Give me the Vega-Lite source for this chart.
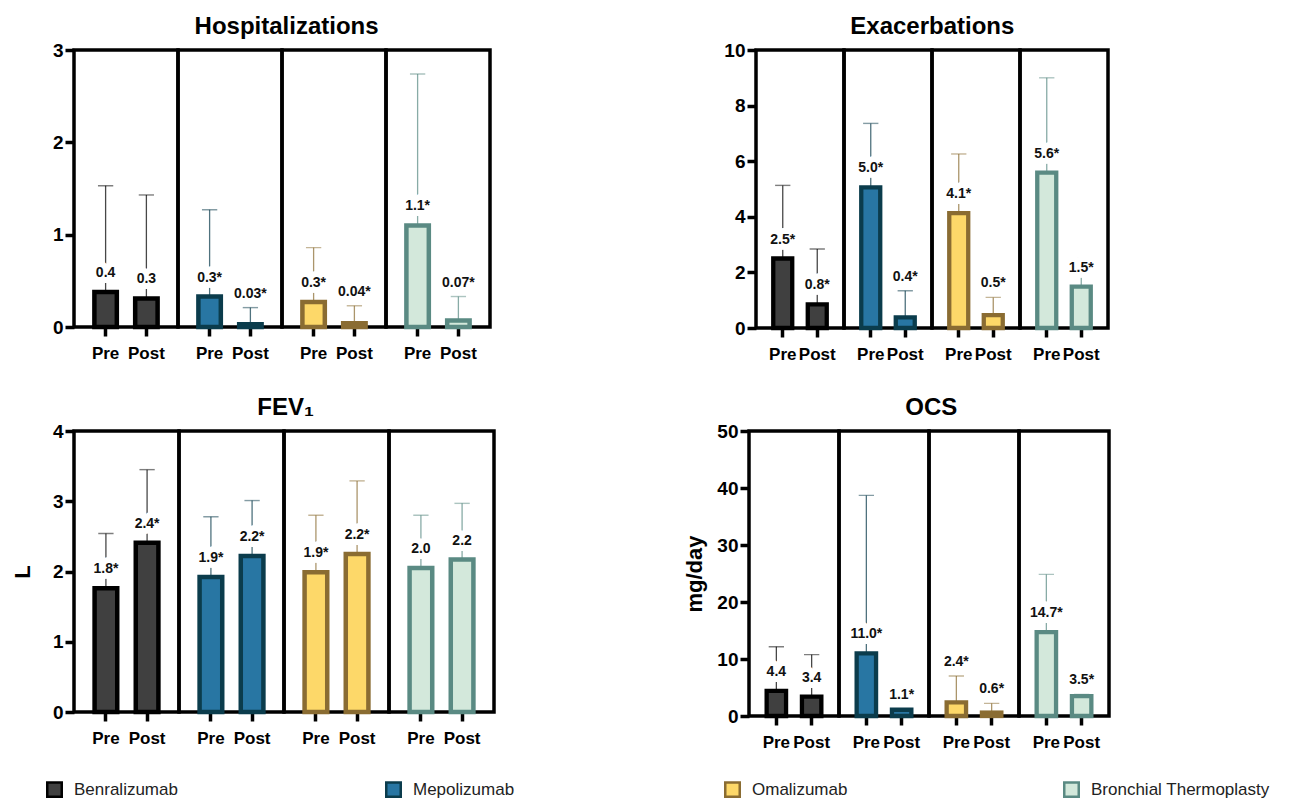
{
  "$schema": "https://vega.github.io/schema/vega-lite/v6.json",
  "background": "white",
  "padding": {"left": 11, "top": 15, "right": 5, "bottom": 5},
  "datasets": {
    "hosp": [
      {"treatment": "Benralizumab", "period": "Pre", "mean": 0.38, "upper": 1.53, "label": "0.4"},
      {"treatment": "Benralizumab", "period": "Post", "mean": 0.31, "upper": 1.43, "label": "0.3"},
      {"treatment": "Mepolizumab", "period": "Pre", "mean": 0.33, "upper": 1.27, "label": "0.3*"},
      {"treatment": "Mepolizumab", "period": "Post", "mean": 0.03, "upper": 0.21, "label": "0.03*"},
      {"treatment": "Omalizumab", "period": "Pre", "mean": 0.27, "upper": 0.86, "label": "0.3*"},
      {"treatment": "Omalizumab", "period": "Post", "mean": 0.04, "upper": 0.23, "label": "0.04*"},
      {"treatment": "Bronchial Thermoplasty", "period": "Pre", "mean": 1.1, "upper": 2.74, "label": "1.1*"},
      {"treatment": "Bronchial Thermoplasty", "period": "Post", "mean": 0.07, "upper": 0.33, "label": "0.07*"}
    ],
    "exac": [
      {"treatment": "Benralizumab", "period": "Pre", "mean": 2.5, "upper": 5.13, "label": "2.5*"},
      {"treatment": "Benralizumab", "period": "Post", "mean": 0.85, "upper": 2.84, "label": "0.8*"},
      {"treatment": "Mepolizumab", "period": "Pre", "mean": 5.06, "upper": 7.36, "label": "5.0*"},
      {"treatment": "Mepolizumab", "period": "Post", "mean": 0.38, "upper": 1.34, "label": "0.4*"},
      {"treatment": "Omalizumab", "period": "Pre", "mean": 4.13, "upper": 6.26, "label": "4.1*"},
      {"treatment": "Omalizumab", "period": "Post", "mean": 0.46, "upper": 1.1, "label": "0.5*"},
      {"treatment": "Bronchial Thermoplasty", "period": "Pre", "mean": 5.59, "upper": 9.0, "label": "5.6*"},
      {"treatment": "Bronchial Thermoplasty", "period": "Post", "mean": 1.49, "upper": 2.5, "label": "1.5*"}
    ],
    "fev": [
      {"treatment": "Benralizumab", "period": "Pre", "mean": 1.76, "upper": 2.54, "label": "1.8*"},
      {"treatment": "Benralizumab", "period": "Post", "mean": 2.41, "upper": 3.45, "label": "2.4*"},
      {"treatment": "Mepolizumab", "period": "Pre", "mean": 1.92, "upper": 2.78, "label": "1.9*"},
      {"treatment": "Mepolizumab", "period": "Post", "mean": 2.22, "upper": 3.01, "label": "2.2*"},
      {"treatment": "Omalizumab", "period": "Pre", "mean": 1.99, "upper": 2.8, "label": "1.9*"},
      {"treatment": "Omalizumab", "period": "Post", "mean": 2.25, "upper": 3.29, "label": "2.2*"},
      {"treatment": "Bronchial Thermoplasty", "period": "Pre", "mean": 2.05, "upper": 2.8, "label": "2.0"},
      {"treatment": "Bronchial Thermoplasty", "period": "Post", "mean": 2.17, "upper": 2.97, "label": "2.2"}
    ],
    "ocs": [
      {"treatment": "Benralizumab", "period": "Pre", "mean": 4.4, "upper": 12.16, "label": "4.4"},
      {"treatment": "Benralizumab", "period": "Post", "mean": 3.4, "upper": 10.76, "label": "3.4"},
      {"treatment": "Mepolizumab", "period": "Pre", "mean": 11.0, "upper": 38.7, "label": "11.0*"},
      {"treatment": "Mepolizumab", "period": "Post", "mean": 1.1, "upper": 1.2, "label": "1.1*"},
      {"treatment": "Omalizumab", "period": "Pre", "mean": 2.4, "upper": 7.02, "label": "2.4*"},
      {"treatment": "Omalizumab", "period": "Post", "mean": 0.6, "upper": 2.22, "label": "0.6*"},
      {"treatment": "Bronchial Thermoplasty", "period": "Pre", "mean": 14.7, "upper": 24.85, "label": "14.7*"},
      {"treatment": "Bronchial Thermoplasty", "period": "Post", "mean": 3.5, "upper": 3.8, "label": "3.5*"}
    ]
  },
  "vconcat": [
    {
      "spacing": 198,
      "resolve": {"scale": {"x": "independent", "y": "independent", "fill": "shared", "stroke": "shared"}, "legend": {"fill": "shared", "stroke": "shared"}},
      "hconcat": [
        {
          "data": {"name": "hosp"},
          "title": {"text": "Hospitalizations", "dx": 35},
          "facet": {"column": {"field": "treatment", "type": "nominal", "sort": ["Benralizumab", "Mepolizumab", "Omalizumab", "Bronchial Thermoplasty"], "header": {"title": null, "labels": false}}},
          "spacing": 0,
          "bounds": "flush",
          "spec": {
            "width": 104, "height": 277,
            "encoding": {"x": {"field": "period", "type": "nominal", "sort": ["Pre", "Post"], "scale": {"paddingInner": 0.45, "paddingOuter": 0.5}, "axis": {"title": null}}},
            "layer": [
              {"mark": {"type": "rule", "strokeWidth": 1.3, "strokeOpacity": 0.72}, "encoding": {"y": {"field": "mean", "type": "quantitative", "title": "L", "scale": {"domain": [0, 3], "nice": false}, "axis": {"values": [0, 1, 2, 3], "format": "d", "titlePadding": 18, "titleOpacity": 0}}, "y2": {"field": "upper"}, "stroke": {"field": "treatment", "type": "nominal"}}},
              {"mark": {"type": "tick", "size": 14, "thickness": 0.1, "filled": false, "strokeWidth": 1.3, "strokeOpacity": 0.72}, "encoding": {"y": {"field": "upper", "type": "quantitative", "title": "L"}, "stroke": {"field": "treatment", "type": "nominal"}}},
              {"mark": {"type": "bar", "strokeWidth": 4.5}, "encoding": {"y": {"field": "mean", "type": "quantitative", "title": "L"},
                "fill": {"field": "treatment", "type": "nominal", "scale": {"domain": ["Benralizumab", "Mepolizumab", "Omalizumab", "Bronchial Thermoplasty"], "range": ["#404040", "#2876a3", "#fdd869", "#d3e8db"]},
                  "legend": {"orient": "none", "legendX": -28, "legendY": 731, "direction": "horizontal", "columns": 4, "gridAlign": "all", "columnPadding": 128, "title": null, "symbolType": "square", "symbolSize": 210, "symbolStrokeWidth": 2.5, "symbolOpacity": 1, "labelFont": "Liberation Sans", "labelFontSize": 17, "labelColor": "#222222", "labelOffset": 11, "labelLimit": 400,
                    "encode": {"symbols": {"update": {"fillOpacity": {"value": 1}, "strokeOpacity": {"value": 1}, "opacity": {"value": 1}}}}}},
                "stroke": {"field": "treatment", "type": "nominal", "scale": {"domain": ["Benralizumab", "Mepolizumab", "Omalizumab", "Bronchial Thermoplasty"], "range": ["#000000", "#0b3c4c", "#8a6c32", "#5a8a83"]},
                  "legend": {"orient": "none", "legendX": -28, "legendY": 731, "direction": "horizontal", "columns": 4, "gridAlign": "all", "columnPadding": 128, "title": null, "symbolType": "square", "symbolSize": 210, "symbolStrokeWidth": 2.5, "symbolOpacity": 1, "labelFont": "Liberation Sans", "labelFontSize": 17, "labelColor": "#222222", "labelOffset": 11, "labelLimit": 400,
                    "encode": {"symbols": {"update": {"fillOpacity": {"value": 1}, "strokeOpacity": {"value": 1}, "opacity": {"value": 1}}}}}}}},
              {"transform": [{"filter": "datum.upper - datum.mean >= 0.29"}], "mark": {"type": "text", "dy": -19, "fill": "white", "stroke": "white", "strokeWidth": 12, "strokeJoin": "round"}, "encoding": {"y": {"field": "mean", "type": "quantitative", "title": "L"}, "text": {"field": "label"}}},
              {"transform": [{"filter": "datum.upper - datum.mean < 0.29"}], "mark": {"type": "text", "dy": -14, "fill": "white", "stroke": "white", "strokeWidth": 12, "strokeJoin": "round"}, "encoding": {"y": {"field": "upper", "type": "quantitative", "title": "L"}, "text": {"field": "label"}}},
              {"transform": [{"filter": "datum.upper - datum.mean >= 0.29"}], "mark": {"type": "text", "dy": -19}, "encoding": {"y": {"field": "mean", "type": "quantitative", "title": "L"}, "text": {"field": "label"}}},
              {"transform": [{"filter": "datum.upper - datum.mean < 0.29"}], "mark": {"type": "text", "dy": -14}, "encoding": {"y": {"field": "upper", "type": "quantitative", "title": "L"}, "text": {"field": "label"}}}
            ]
          }
        },
        {
          "data": {"name": "exac"},
          "title": {"text": "Exacerbations", "dx": 32},
          "facet": {"column": {"field": "treatment", "type": "nominal", "sort": ["Benralizumab", "Mepolizumab", "Omalizumab", "Bronchial Thermoplasty"], "header": {"title": null, "labels": false}}},
          "spacing": 0,
          "bounds": "flush",
          "spec": {
            "width": 88, "height": 278,
            "encoding": {"x": {"field": "period", "type": "nominal", "sort": ["Pre", "Post"], "scale": {"paddingInner": 0.45, "paddingOuter": 0.5}, "axis": {"title": null}}},
            "layer": [
              {"mark": {"type": "rule", "strokeWidth": 1.3, "strokeOpacity": 0.72}, "encoding": {"y": {"field": "mean", "type": "quantitative", "title": "mg/day", "scale": {"domain": [0, 10], "nice": false}, "axis": {"values": [0, 2, 4, 6, 8, 10], "format": "d", "titlePadding": 10, "titleOpacity": 0}}, "y2": {"field": "upper"}, "stroke": {"field": "treatment", "type": "nominal"}}},
              {"mark": {"type": "tick", "size": 14, "thickness": 0.1, "filled": false, "strokeWidth": 1.3, "strokeOpacity": 0.72}, "encoding": {"y": {"field": "upper", "type": "quantitative", "title": "mg/day"}, "stroke": {"field": "treatment", "type": "nominal"}}},
              {"mark": {"type": "bar", "strokeWidth": 4.3}, "encoding": {"y": {"field": "mean", "type": "quantitative", "title": "mg/day"}, "fill": {"field": "treatment", "type": "nominal"}, "stroke": {"field": "treatment", "type": "nominal"}}},
              {"transform": [{"filter": "datum.upper - datum.mean >= 0.98"}], "mark": {"type": "text", "dy": -19, "fill": "white", "stroke": "white", "strokeWidth": 12, "strokeJoin": "round"}, "encoding": {"y": {"field": "mean", "type": "quantitative", "title": "mg/day"}, "text": {"field": "label"}}},
              {"transform": [{"filter": "datum.upper - datum.mean < 0.98"}], "mark": {"type": "text", "dy": -14, "fill": "white", "stroke": "white", "strokeWidth": 12, "strokeJoin": "round"}, "encoding": {"y": {"field": "upper", "type": "quantitative", "title": "mg/day"}, "text": {"field": "label"}}},
              {"transform": [{"filter": "datum.upper - datum.mean >= 0.98"}], "mark": {"type": "text", "dy": -19}, "encoding": {"y": {"field": "mean", "type": "quantitative", "title": "mg/day"}, "text": {"field": "label"}}},
              {"transform": [{"filter": "datum.upper - datum.mean < 0.98"}], "mark": {"type": "text", "dy": -14}, "encoding": {"y": {"field": "upper", "type": "quantitative", "title": "mg/day"}, "text": {"field": "label"}}}
            ]
          }
        }
      ]
    },
    {
      "spacing": 187,
      "resolve": {"scale": {"x": "independent", "y": "independent", "fill": "shared", "stroke": "shared"}, "legend": {"fill": "shared", "stroke": "shared"}},
      "hconcat": [
        {
          "data": {"name": "fev"},
          "title": {"text": "FEV₁", "dx": 32},
          "facet": {"column": {"field": "treatment", "type": "nominal", "sort": ["Benralizumab", "Mepolizumab", "Omalizumab", "Bronchial Thermoplasty"], "header": {"title": null, "labels": false}}},
          "spacing": 0,
          "bounds": "flush",
          "spec": {
            "width": 105, "height": 281,
            "encoding": {"x": {"field": "period", "type": "nominal", "sort": ["Pre", "Post"], "scale": {"paddingInner": 0.45, "paddingOuter": 0.5}, "axis": {"title": null}}},
            "layer": [
              {"mark": {"type": "rule", "strokeWidth": 1.3, "strokeOpacity": 0.72}, "encoding": {"y": {"field": "mean", "type": "quantitative", "title": "L", "scale": {"domain": [0, 4], "nice": false}, "axis": {"values": [0, 1, 2, 3, 4], "format": "d", "titlePadding": 18}}, "y2": {"field": "upper"}, "stroke": {"field": "treatment", "type": "nominal"}}},
              {"mark": {"type": "tick", "size": 14, "thickness": 0.1, "filled": false, "strokeWidth": 1.3, "strokeOpacity": 0.72}, "encoding": {"y": {"field": "upper", "type": "quantitative", "title": "L"}, "stroke": {"field": "treatment", "type": "nominal"}}},
              {"mark": {"type": "bar", "strokeWidth": 4.5}, "encoding": {"y": {"field": "mean", "type": "quantitative", "title": "L"}, "fill": {"field": "treatment", "type": "nominal"}, "stroke": {"field": "treatment", "type": "nominal"}}},
              {"mark": {"type": "text", "dy": -19, "fill": "white", "stroke": "white", "strokeWidth": 12, "strokeJoin": "round"}, "encoding": {"y": {"field": "mean", "type": "quantitative", "title": "L"}, "text": {"field": "label"}}},
              {"mark": {"type": "text", "dy": -19}, "encoding": {"y": {"field": "mean", "type": "quantitative", "title": "L"}, "text": {"field": "label"}}}
            ]
          }
        },
        {
          "data": {"name": "ocs"},
          "title": {"text": "OCS", "dx": 34},
          "facet": {"column": {"field": "treatment", "type": "nominal", "sort": ["Benralizumab", "Mepolizumab", "Omalizumab", "Bronchial Thermoplasty"], "header": {"title": null, "labels": false}}},
          "spacing": 0,
          "bounds": "flush",
          "spec": {
            "width": 90, "height": 285,
            "encoding": {"x": {"field": "period", "type": "nominal", "sort": ["Pre", "Post"], "scale": {"paddingInner": 0.45, "paddingOuter": 0.5}, "axis": {"title": null}}},
            "layer": [
              {"mark": {"type": "rule", "strokeWidth": 1.3, "strokeOpacity": 0.72}, "encoding": {"y": {"field": "mean", "type": "quantitative", "title": "mg/day", "scale": {"domain": [0, 50], "nice": false}, "axis": {"values": [0, 10, 20, 30, 40, 50], "format": "d", "titlePadding": 10}}, "y2": {"field": "upper"}, "stroke": {"field": "treatment", "type": "nominal"}}},
              {"mark": {"type": "tick", "size": 14, "thickness": 0.1, "filled": false, "strokeWidth": 1.3, "strokeOpacity": 0.72}, "encoding": {"y": {"field": "upper", "type": "quantitative", "title": "mg/day"}, "stroke": {"field": "treatment", "type": "nominal"}}},
              {"mark": {"type": "bar", "strokeWidth": 4.3}, "encoding": {"y": {"field": "mean", "type": "quantitative", "title": "mg/day"}, "fill": {"field": "treatment", "type": "nominal"}, "stroke": {"field": "treatment", "type": "nominal"}}},
              {"transform": [{"filter": "datum.upper - datum.mean >= 4.85"}], "mark": {"type": "text", "dy": -19, "fill": "white", "stroke": "white", "strokeWidth": 12, "strokeJoin": "round"}, "encoding": {"y": {"field": "mean", "type": "quantitative", "title": "mg/day"}, "text": {"field": "label"}}},
              {"transform": [{"filter": "datum.upper - datum.mean < 4.85"}], "mark": {"type": "text", "dy": -14, "fill": "white", "stroke": "white", "strokeWidth": 12, "strokeJoin": "round"}, "encoding": {"y": {"field": "upper", "type": "quantitative", "title": "mg/day"}, "text": {"field": "label"}}},
              {"transform": [{"filter": "datum.upper - datum.mean >= 4.85"}], "mark": {"type": "text", "dy": -19}, "encoding": {"y": {"field": "mean", "type": "quantitative", "title": "mg/day"}, "text": {"field": "label"}}},
              {"transform": [{"filter": "datum.upper - datum.mean < 4.85"}], "mark": {"type": "text", "dy": -14}, "encoding": {"y": {"field": "upper", "type": "quantitative", "title": "mg/day"}, "text": {"field": "label"}}}
            ]
          }
        }
      ]
    }
  ],
  "spacing": 34,
  "resolve": {
    "scale": {"x": "independent", "y": "independent", "fill": "shared", "stroke": "shared"},
    "legend": {"fill": "shared", "stroke": "shared"}
  },
  "config": {
    "font": "Liberation Sans",
    "view": {"stroke": "black", "strokeWidth": 3.5},
    "axis": {"domain": false, "grid": false, "ticks": true, "tickColor": "black", "tickWidth": 3.5, "tickSize": 9, "labelFont": "Liberation Sans", "labelFontWeight": "bold", "labelColor": "black", "titleFont": "Liberation Sans", "titleFontWeight": "bold", "titleFontSize": 22, "titleColor": "black"},
    "axisY": {"labelFontSize": 19, "labelPadding": 2},
    "axisX": {"labelFontSize": 17, "labelPadding": 9, "labelAngle": 0},
    "title": {"font": "Liberation Sans", "fontSize": 24, "fontWeight": "bold", "color": "black", "anchor": "middle", "offset": 2},
    "text": {"font": "Liberation Sans", "fontSize": 14, "fontWeight": "bold", "baseline": "middle", "fill": "#111111"},
    "facet": {"spacing": 0},
    "header": {"labels": false, "title": null}
  }
}
